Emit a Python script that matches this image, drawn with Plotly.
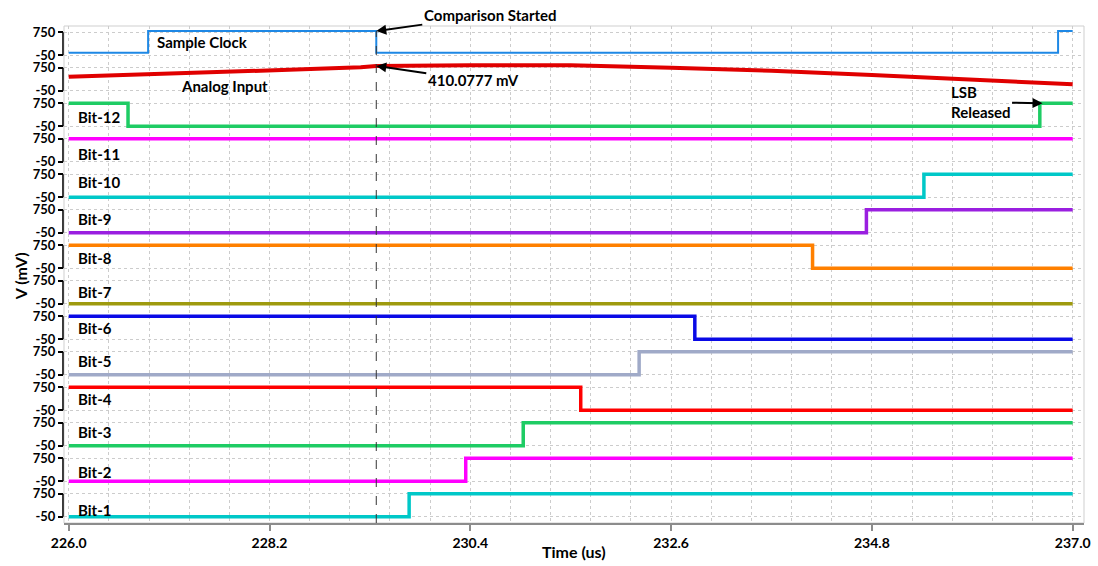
import plotly.graph_objects as go
from plotly.subplots import make_subplots

# ---------------- data ----------------
t_start, t_end = 226.0, 237.0
x_ticks = [226.0, 228.2, 230.4, 232.6, 234.8, 237.0]
y_ticks = [750, -50]
y_tick_text = ["750", "-50"]
LOW, HIGH = -50, 750

clock_low, clock_high = 40, 790
clock_switch = [226.87, 229.37, 236.84]

analog_t = [226.0, 227.0, 228.1, 229.2, 229.37, 230.4, 231.5, 232.6, 233.7, 234.8, 235.9, 237.0]
analog_mv = [439, 522, 647, 765, 811, 835, 835, 751, 647, 498, 348, 174]

bit_names = ["Bit-12", "Bit-11", "Bit-10", "Bit-9", "Bit-8", "Bit-7",
             "Bit-6", "Bit-5", "Bit-4", "Bit-3", "Bit-2", "Bit-1"]
bit_initial = [HIGH, HIGH, LOW, LOW, HIGH, LOW, HIGH, LOW, HIGH, LOW, LOW, LOW]
bit_switch = [[226.65, 236.64], [], [235.37], [234.74], [234.15], [],
              [232.86], [232.25], [231.61], [230.98], [230.35], [229.73]]

comparison_time = 229.37
comparison_text = "Comparison Started"
analog_text = "410.0777 mV"
lsb_text = "LSB<br>Released"

# ---------------- styles ----------------
clock_color = "#1e88e5"
analog_color = "#e00000"
bit_colors = ["#1ecc64", "#ff00ff", "#00c8c8", "#9a1fe0", "#ff8000", "#9e9a0e",
              "#0a0ae6", "#a0aac8", "#ff0000", "#1ecc64", "#ff00ff", "#00c8c8"]
FONT = "Lato"
label_x_bits = 0.0118
label_y = [0.55, 0.31, 0.437, 0.394, 0.614, 0.563, 0.465, 0.507,
           0.49, 0.577, 0.493, 0.563, 0.437, 0.366]
y_range = [-267, 967]
x_range = [225.9485, 237.124]


def step(initial, switches, low, high):
    xs, ys = [t_start], [initial]
    level = initial
    for t in switches:
        level = high if level == low else low
        xs.append(t)
        ys.append(level)
    xs.append(t_end)
    ys.append(level)
    return xs, ys


n_rows = 2 + len(bit_names)
fig = make_subplots(rows=n_rows, cols=1, shared_xaxes=True, vertical_spacing=0)

cx, cy = step(clock_low, clock_switch, clock_low, clock_high)
fig.add_trace(go.Scatter(x=cx, y=cy, mode="lines", line=dict(color=clock_color, width=2, shape="hv"),
                         showlegend=False, hoverinfo="skip"), row=1, col=1)
fig.add_trace(go.Scatter(x=analog_t, y=analog_mv, mode="lines", line=dict(color=analog_color, width=4),
                         showlegend=False, hoverinfo="skip"), row=2, col=1)
for i, name in enumerate(bit_names):
    bx, by = step(bit_initial[i], bit_switch[i], LOW, HIGH)
    fig.add_trace(go.Scatter(x=bx, y=by, mode="lines", line=dict(color=bit_colors[i], width=3.5, shape="hv"),
                             showlegend=False, hoverinfo="skip"), row=3 + i, col=1)

grid = dict(showgrid=True, gridcolor="#cccccc", griddash="dot", gridwidth=1)
fig.update_xaxes(range=x_range, tickvals=x_ticks, ticktext=[f"{v:.1f}" for v in x_ticks],
                 zeroline=False, showline=False, ticks="", automargin=False,
                 minor=dict(tickmode="linear", tick0=t_start, dtick=0.44, showgrid=True,
                            gridcolor="#cccccc", griddash="dot", gridwidth=1),
                 **grid)
fig.update_xaxes(row=n_rows, col=1, showline=True, linecolor="#8c8c8c", linewidth=1.5,
                 ticks="outside", ticklen=6, tickcolor="#8c8c8c", tickwidth=1.5,
                 tickfont=dict(family=FONT, size=14, color="black", weight="bold"))
fig.update_yaxes(range=y_range, tickvals=y_ticks, ticktext=y_tick_text, ticks="outside",
                 ticklen=5, tickcolor="black", tickwidth=1.5, showline=False, zeroline=False,
                 automargin=False,
                 tickfont=dict(family=FONT, size=13, color="black", weight="bold"), **grid)

shapes = [dict(type="rect", xref="paper", yref="paper", x0=0, x1=1, y0=0, y1=1,
               line=dict(color="#cfcfcf", width=1), layer="below")]
for r in range(1, n_rows + 1):
    yref = "y" if r == 1 else f"y{r}"
    shapes.append(dict(type="line", xref="paper", yref=yref, x0=-0.001, x1=-0.001,
                       y0=min(y_ticks), y1=max(y_ticks), line=dict(color="black", width=1.5)))
shapes.append(dict(type="line", xref="x", yref="paper", x0=comparison_time, x1=comparison_time,
                   y0=0, y1=0.99, line=dict(color="#333333", width=1, dash="dash")))

lab_font = dict(family=FONT, size=15, color="black")
annotations = []
row_names = ["Sample Clock", "Analog Input"] + bit_names
label_xs = [0.0892, 0.1127] + [label_x_bits] * len(bit_names)
for r, name in enumerate(row_names, start=1):
    yref = "y domain" if r == 1 else f"y{r} domain"
    annotations.append(dict(text=f"<b>{name}</b>", xref="paper", yref=yref, x=label_xs[r - 1],
                            y=label_y[r - 1], xanchor="left", yanchor="middle",
                            showarrow=False, font=lab_font))

annotations.append(dict(text=f"<b>{comparison_text}</b>", xref="x", yref="y", x=comparison_time,
                        y=clock_high, ax=114, ay=-16, showarrow=True, arrowhead=2, arrowsize=1,
                        arrowwidth=2, arrowcolor="black", font=lab_font))
annotations.append(dict(text=f"<b>{analog_text}</b>", xref="x", yref="y2", x=comparison_time,
                        y=analog_mv[analog_t.index(comparison_time)], ax=97, ay=14, showarrow=True,
                        arrowhead=2, arrowsize=1, arrowwidth=2, arrowcolor="black", font=lab_font))
annotations.append(dict(text=f"<b>{lsb_text}</b>", xref="x", yref="y3", x=bit_switch[0][-1] + 0.03,
                        y=HIGH, ax=-62, ay=-1, showarrow=True, arrowhead=2, arrowsize=1, align="left",
                        arrowwidth=2, arrowcolor="black", font=lab_font))
annotations.append(dict(text="<b>V (mV)</b>", xref="paper", yref="paper", x=-0.042, y=0.497,
                        textangle=-90, showarrow=False, xanchor="center", yanchor="middle",
                        font=dict(family=FONT, size=16, color="black")))
annotations.append(dict(text="<b>Time (us)</b>", xref="paper", yref="paper", x=0.5, y=-0.0577,
                        showarrow=False, xanchor="center", yanchor="middle",
                        font=dict(family=FONT, size=16, color="black")))

fig.update_layout(width=1098, height=566, autosize=False,
                  margin=dict(l=64, r=14, t=26, b=43),
                  paper_bgcolor="white", plot_bgcolor="white",
                  shapes=shapes, annotations=annotations, showlegend=False)

fig.write_html("out.html", config={"displayModeBar": False},
               post_script="document.body.style.margin='0';document.body.style.overflow='hidden';")
